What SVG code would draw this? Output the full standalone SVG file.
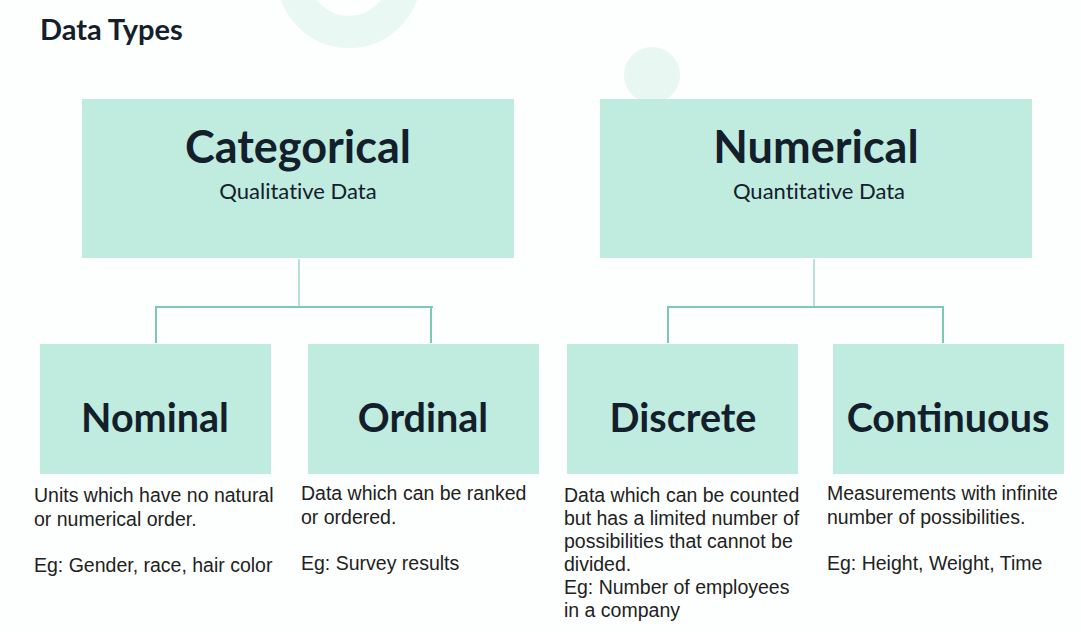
<svg xmlns="http://www.w3.org/2000/svg" width="1081" height="632" viewBox="0 0 1081 632">
  <style>
    .box { fill: #c0ebdf; }
    .title { font-family: Lato, "Open Sans", sans-serif; font-weight: 700; fill: #13202b; text-anchor: middle; }
    .big { font-size: 45px; }
    .mid { font-size: 39.5px; }
    .sub { font-family: Lato, "Open Sans", sans-serif; font-size: 22px; fill: #13202b; text-anchor: middle; font-variant-ligatures: none; }
    .desc { font-family: "Liberation Sans", Arial, sans-serif; font-size: 19.5px; fill: #222222; }
    .link { fill: none; stroke: #7ccab6; stroke-width: 2; }
    .stem { fill: none; stroke: #b6e4d7; stroke-width: 2; }
  </style>
  <rect width="1081" height="632" fill="#fdfefe"/>
  <!-- decorative background shapes -->
  <circle cx="349" cy="-24" r="56" fill="none" stroke="#eaf8f3" stroke-width="32"/>
  <circle cx="652" cy="75" r="28" fill="#e8f7f2"/>
  <text x="40" y="40" font-family="Lato, 'Open Sans', sans-serif" font-size="29" font-weight="700" fill="#13202b">Data Types</text>

  <g id="connectors">
    <line class="stem" x1="299" y1="259" x2="299" y2="307"/>
    <polyline class="link" points="156,343 156,307 433,307"/>
    <line class="link" x1="431" y1="307" x2="431" y2="343"/>
    <line class="stem" x1="814" y1="259" x2="814" y2="307"/>
    <polyline class="link" points="668,343 668,307 943,307 943,343"/>
  </g>

  <g id="categorical">
    <rect class="box" x="82" y="99" width="432" height="159"/>
    <text class="title big" x="298" y="163">Categorical</text>
    <text class="sub" x="298" y="199">Qualitative Data</text>
  </g>
  <g id="numerical">
    <rect class="box" x="600" y="99" width="432" height="159"/>
    <text class="title big" x="816" y="163">Numerical</text>
    <text class="sub" x="819" y="199">Quantitative Data</text>
  </g>

  <g id="nominal">
    <rect class="box" x="40" y="344" width="231" height="130"/>
    <text class="title mid" x="155" y="432">Nominal</text>
    <text class="desc" x="34" y="502">Units which have no natural</text>
    <text class="desc" x="34" y="526">or numerical order.</text>
    <text class="desc" x="34" y="572">Eg: Gender, race, hair color</text>
  </g>
  <g id="ordinal">
    <rect class="box" x="308" y="344" width="231" height="130"/>
    <text class="title mid" x="423" y="432">Ordinal</text>
    <text class="desc" x="301" y="500">Data which can be ranked</text>
    <text class="desc" x="301" y="524">or ordered.</text>
    <text class="desc" x="301" y="570">Eg: Survey results</text>
  </g>
  <g id="discrete">
    <rect class="box" x="567" y="344" width="231" height="130"/>
    <text class="title mid" x="683" y="432">Discrete</text>
    <text class="desc" x="564" y="502">Data which can be counted</text>
    <text class="desc" x="564" y="525">but has a limited number of</text>
    <text class="desc" x="564" y="548">possibilities that cannot be</text>
    <text class="desc" x="564" y="571">divided.</text>
    <text class="desc" x="564" y="594">Eg: Number of employees</text>
    <text class="desc" x="564" y="617">in a company</text>
  </g>
  <g id="continuous">
    <rect class="box" x="833" y="344" width="231" height="130"/>
    <text class="title mid" x="948" y="432">Continuous</text>
    <text class="desc" x="827" y="500">Measurements with infinite</text>
    <text class="desc" x="827" y="524">number of possibilities.</text>
    <text class="desc" x="827" y="570">Eg: Height, Weight, Time</text>
  </g>
</svg>
